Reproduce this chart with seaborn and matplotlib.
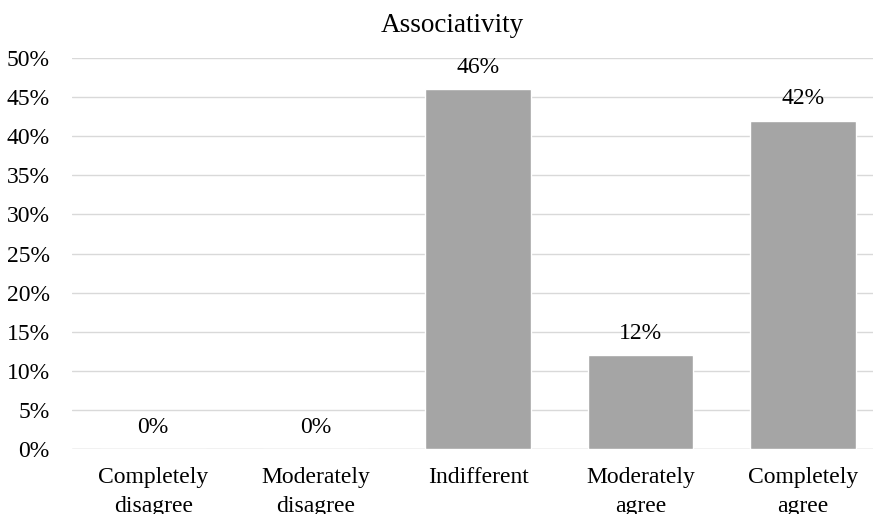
import matplotlib
matplotlib.use("Agg")
import matplotlib.pyplot as plt
import seaborn as sns
import pandas as pd

# chart data
categories = ["Completely\ndisagree", "Moderately\ndisagree", "Indifferent",
              "Moderately\nagree", "Completely\nagree"]
shares = [0, 0, 46, 12, 42]
y_ticks = [0, 5, 10, 15, 20, 25, 30, 35, 40, 45, 50]
tick_labels = [f"{t}%" for t in y_ticks]

sns.set_style("white")
plt.rcParams["font.family"] = ["Liberation Serif", "DejaVu Serif"]
plt.rcParams["text.color"] = "black"
plt.rcParams["xtick.color"] = "black"
plt.rcParams["ytick.color"] = "black"

df = pd.DataFrame({"category": categories, "share": shares})

fig = plt.figure(figsize=(8.73, 5.14), dpi=100)
ax = fig.add_axes([72 / 873, 65 / 514, 812 / 873, 391 / 514])

sns.barplot(data=df, x="category", y="share", color="#A5A5A5",
            width=0.65, saturation=1, ax=ax, zorder=3)

ax.set_ylim(0, 50)
ax.set_xlim(-0.5, 4.5)
ax.set_yticks(y_ticks)
ax.set_yticklabels(tick_labels)
ax.yaxis.grid(True, color="#D9D9D9", linewidth=1.0, zorder=0)
ax.set_axisbelow(True)
for side in ["top", "right", "left", "bottom"]:
    ax.spines[side].set_visible(False)
ax.axhline(0, color="#D9D9D9", linewidth=1.0, zorder=1)

ax.tick_params(axis="y", length=0, pad=16, labelsize=17)
ax.tick_params(axis="x", length=0, pad=13, labelsize=17)
for lab in ax.get_xticklabels():
    lab.set_linespacing(1.5)
ax.set_xlabel("")
ax.set_ylabel("")

for cont in ax.containers:
    ax.bar_label(cont, labels=[f"{v}%" for v in shares], padding=8, fontsize=17)

fig.text(452 / 873, 1 - 25 / 514, "Associativity", ha="center", va="center",
         fontsize=19.5)

fig.savefig("out.png", dpi=100)
